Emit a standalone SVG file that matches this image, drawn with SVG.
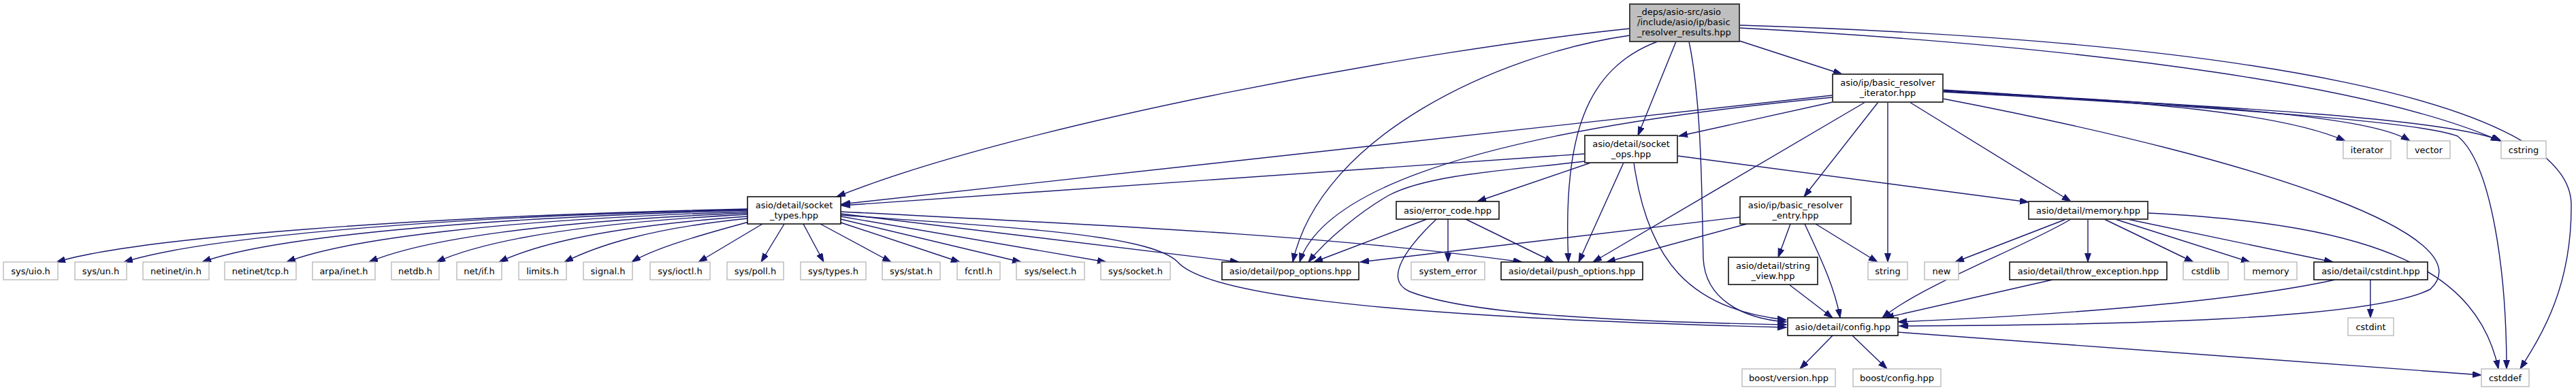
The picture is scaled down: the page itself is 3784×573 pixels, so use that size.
<svg xmlns="http://www.w3.org/2000/svg" width="3784" height="573" viewBox="0 0 3784 573">
<defs>
<marker id="ah" markerUnits="userSpaceOnUse" markerWidth="14" markerHeight="10" refX="13" refY="4.5" orient="auto">
<path d="M0,0 L13,4.5 L0,9 z" fill="#191970" stroke="#191970" stroke-width="1"/>
</marker>
<style>
.e path{fill:none;stroke:#191970;stroke-width:1.4;marker-end:url(#ah)}
.n rect{fill:#ffffff;stroke:#000000;stroke-width:1.5}
.n.g rect{stroke:#404040;stroke-width:2}
.n.x rect{stroke:#bfbfbf;stroke-width:1.5}
.n.r rect{fill:#bfbfbf;stroke:#404040;stroke-width:2}
text{font-family:"DejaVu Sans","Liberation Sans",sans-serif;font-size:13px;fill:#000000;text-anchor:middle}
.n.r text{text-anchor:start}
</style>
</defs>
<rect width="3784" height="573" fill="#ffffff"/>
<g id="edges" class="e">
<path d="M2555,60 L2706,109"/>
<path d="M2462,61 L2406,199"/>
<path d="M2394,42 C2100,72 1500,180 1229,289"/>
<path d="M2394,52 C2200,80 1940,200 1899,385"/>
<path d="M2435,61 C2330,100 2295,200 2304,385"/>
<path d="M2481,61 C2500,150 2500,300 2502,380 C2505,440 2560,468 2624,473"/>
<path d="M2555,41 C3100,70 3500,130 3672,207"/>
<path d="M2555,37 C3300,60 3775,150 3777,300 C3778,420 3735,490 3702,542"/>
<path d="M2692,150 L2466,200"/>
<path d="M2692,140 L1236,300"/>
<path d="M2692,143 C2250,185 1950,260 1909,385"/>
<path d="M2740,150 L2340,385"/>
<path d="M2759,150 L2650,289"/>
<path d="M2773,150 L2773,385"/>
<path d="M2805,150 L3042,296"/>
<path d="M2854,145 C3350,240 3650,350 3570,425 C3480,470 3100,478 2790,479"/>
<path d="M2854,135 C3300,160 3560,180 3610,200 C3660,240 3682,400 3682,542"/>
<path d="M2854,132 C3150,150 3350,165 3445,207"/>
<path d="M2854,133 C3250,155 3480,170 3540,207"/>
<path d="M2854,134 C3300,158 3600,175 3674,207"/>
<path d="M2328,226 L1236,302"/>
<path d="M2328,237 C2230,249 2100,255 2040,287 C2000,310 1950,350 1922,385"/>
<path d="M2337,239 L2170,296"/>
<path d="M2385,239 L2319,385"/>
<path d="M2464,229 L2980,297"/>
<path d="M2400,239 C2420,380 2480,455 2624,470"/>
<path d="M1098,307 C600,318 200,350 83,385"/>
<path d="M1098,308 C650,318 300,348 182,385"/>
<path d="M1098,309 C700,320 400,348 297,385"/>
<path d="M1098,311 C750,322 510,350 421,385"/>
<path d="M1098,313 C800,325 620,352 542,385"/>
<path d="M1098,315 C850,328 710,354 641,385"/>
<path d="M1098,318 C900,332 790,358 733,385"/>
<path d="M1098,321 C950,336 875,362 829,385"/>
<path d="M1100,326 C1030,345 960,365 928,385"/>
<path d="M1120,329 L1026,385"/>
<path d="M1152,329 L1118,385"/>
<path d="M1180,329 L1210,385"/>
<path d="M1205,329 L1309,385"/>
<path d="M1235,327 L1410,385"/>
<path d="M1235,322 L1500,385"/>
<path d="M1235,318 L1625,385"/>
<path d="M1235,314 L1820,385"/>
<path d="M1235,311 C1600,330 1950,345 2236,385"/>
<path d="M1235,316 C1500,335 1690,345 1730,385 C1770,430 2000,465 2624,481"/>
<path d="M2096,322 L1930,385"/>
<path d="M2127,322 L2127,385"/>
<path d="M2151,321 L2282,385"/>
<path d="M2110,322 C2070,360 2030,410 2070,428 C2150,460 2350,472 2624,477"/>
<path d="M2556,319 L1998,385"/>
<path d="M2566,329 L2360,385"/>
<path d="M2630,329 L2612,378"/>
<path d="M2651,329 C2670,370 2695,420 2703,467"/>
<path d="M2667,329 L2758,385"/>
<path d="M2628,418 L2692,467"/>
<path d="M3035,322 L2872,385"/>
<path d="M3042,322 C2980,360 2820,420 2765,467"/>
<path d="M3067,322 L3067,385"/>
<path d="M3091,322 L3222,385"/>
<path d="M3107,322 L3305,385"/>
<path d="M3125,322 L3427,385"/>
<path d="M3155,313 C3500,330 3640,400 3670,542"/>
<path d="M3015,411 L2769,467"/>
<path d="M3430,411 C3300,440 3050,462 2788,473"/>
<path d="M3482,411 L3482,467"/>
<path d="M2692,493 L2644,542"/>
<path d="M2721,493 L2772,542"/>
<path d="M2788,488 C3100,510 3400,535 3645,551"/>
</g>
<g id="root" class="n r"><rect x="2394" y="6" width="161" height="55"/><text x="2405" y="22">_deps/asio-src/asio</text><text x="2405" y="37">/include/asio/ip/basic</text><text x="2405" y="52">_resolver_results.hpp</text></g>
<g id="basic_resolver_iterator" class="n g"><rect x="2692" y="109" width="162" height="41"/><text x="2773" y="126">asio/ip/basic_resolver</text><text x="2773" y="141">_iterator.hpp</text></g>
<g id="socket_ops" class="n g"><rect x="2328" y="199" width="136" height="40"/><text x="2396" y="215.5">asio/detail/socket</text><text x="2396" y="230.5">_ops.hpp</text></g>
<g id="socket_types" class="n"><rect x="1098" y="289" width="137" height="40"/><text x="1166.5" y="305.5">asio/detail/socket</text><text x="1166.5" y="320.5">_types.hpp</text></g>
<g id="error_code" class="n"><rect x="2051" y="296" width="151" height="26"/><text x="2126.5" y="313.5">asio/error_code.hpp</text></g>
<g id="basic_resolver_entry" class="n"><rect x="2556" y="289" width="163" height="40"/><text x="2637.5" y="305.5">asio/ip/basic_resolver</text><text x="2637.5" y="320.5">_entry.hpp</text></g>
<g id="memory_hpp" class="n g"><rect x="2980" y="296" width="175" height="26"/><text x="3067.5" y="313.5">asio/detail/memory.hpp</text></g>
<g id="pop_options" class="n"><rect x="1795" y="385" width="201" height="26"/><text x="1895.5" y="402.5">asio/detail/pop_options.hpp</text></g>
<g id="system_error" class="n x"><rect x="2073" y="385" width="108" height="26"/><text x="2127" y="402.5">system_error</text></g>
<g id="push_options" class="n"><rect x="2205" y="385" width="208" height="26"/><text x="2309" y="402.5">asio/detail/push_options.hpp</text></g>
<g id="string_view" class="n g"><rect x="2539" y="378" width="131" height="40"/><text x="2604.5" y="394.5">asio/detail/string</text><text x="2604.5" y="409.5">_view.hpp</text></g>
<g id="string" class="n x"><rect x="2744" y="385" width="58" height="26"/><text x="2773" y="402.5">string</text></g>
<g id="new" class="n x"><rect x="2827" y="385" width="50" height="26"/><text x="2852" y="402.5">new</text></g>
<g id="throw_exception" class="n"><rect x="2952" y="385" width="231" height="26"/><text x="3067.5" y="402.5">asio/detail/throw_exception.hpp</text></g>
<g id="cstdlib" class="n x"><rect x="3207" y="385" width="66" height="26"/><text x="3240" y="402.5">cstdlib</text></g>
<g id="memory" class="n x"><rect x="3297" y="385" width="77" height="26"/><text x="3335.5" y="402.5">memory</text></g>
<g id="cstdint_hpp" class="n"><rect x="3399" y="385" width="167" height="26"/><text x="3482.5" y="402.5">asio/detail/cstdint.hpp</text></g>
<g id="cstdint" class="n x"><rect x="3449" y="467" width="67" height="26"/><text x="3482.5" y="484.5">cstdint</text></g>
<g id="config" class="n"><rect x="2626" y="467" width="162" height="26"/><text x="2707" y="484.5">asio/detail/config.hpp</text></g>
<g id="boost_version" class="n x"><rect x="2559" y="542" width="137" height="26"/><text x="2627.5" y="559.5">boost/version.hpp</text></g>
<g id="boost_config" class="n x"><rect x="2722" y="542" width="129" height="26"/><text x="2786.5" y="559.5">boost/config.hpp</text></g>
<g id="cstddef" class="n x"><rect x="3645" y="542" width="70" height="26"/><text x="3680" y="559.5">cstddef</text></g>
<g id="iterator" class="n x"><rect x="3442" y="207" width="70" height="26"/><text x="3477" y="224.5">iterator</text></g>
<g id="vector" class="n x"><rect x="3536" y="207" width="63" height="26"/><text x="3567.5" y="224.5">vector</text></g>
<g id="cstring" class="n x"><rect x="3674" y="207" width="66" height="26"/><text x="3707" y="224.5">cstring</text></g>
<g id="sys_uio" class="n x"><rect x="5" y="385" width="80" height="26"/><text x="45" y="402.5">sys/uio.h</text></g>
<g id="sys_un" class="n x"><rect x="110" y="385" width="76" height="26"/><text x="148" y="402.5">sys/un.h</text></g>
<g id="netinet_in" class="n x"><rect x="210" y="385" width="97" height="26"/><text x="258.5" y="402.5">netinet/in.h</text></g>
<g id="netinet_tcp" class="n x"><rect x="330" y="385" width="105" height="26"/><text x="382.5" y="402.5">netinet/tcp.h</text></g>
<g id="arpa_inet" class="n x"><rect x="459" y="385" width="92" height="26"/><text x="505" y="402.5">arpa/inet.h</text></g>
<g id="netdb" class="n x"><rect x="575" y="385" width="70" height="26"/><text x="610" y="402.5">netdb.h</text></g>
<g id="net_if" class="n x"><rect x="671" y="385" width="66" height="26"/><text x="704" y="402.5">net/if.h</text></g>
<g id="limits" class="n x"><rect x="762" y="385" width="70" height="26"/><text x="797" y="402.5">limits.h</text></g>
<g id="signal" class="n x"><rect x="857" y="385" width="72" height="26"/><text x="893" y="402.5">signal.h</text></g>
<g id="sys_ioctl" class="n x"><rect x="955" y="385" width="88" height="26"/><text x="999" y="402.5">sys/ioctl.h</text></g>
<g id="sys_poll" class="n x"><rect x="1068" y="385" width="83" height="26"/><text x="1109.5" y="402.5">sys/poll.h</text></g>
<g id="sys_types" class="n x"><rect x="1176" y="385" width="96" height="26"/><text x="1224" y="402.5">sys/types.h</text></g>
<g id="sys_stat" class="n x"><rect x="1296" y="385" width="85" height="26"/><text x="1338.5" y="402.5">sys/stat.h</text></g>
<g id="fcntl" class="n x"><rect x="1406" y="385" width="63" height="26"/><text x="1437.5" y="402.5">fcntl.h</text></g>
<g id="sys_select" class="n x"><rect x="1493" y="385" width="100" height="26"/><text x="1543" y="402.5">sys/select.h</text></g>
<g id="sys_socket" class="n x"><rect x="1617" y="385" width="102" height="26"/><text x="1668" y="402.5">sys/socket.h</text></g>
</svg>
